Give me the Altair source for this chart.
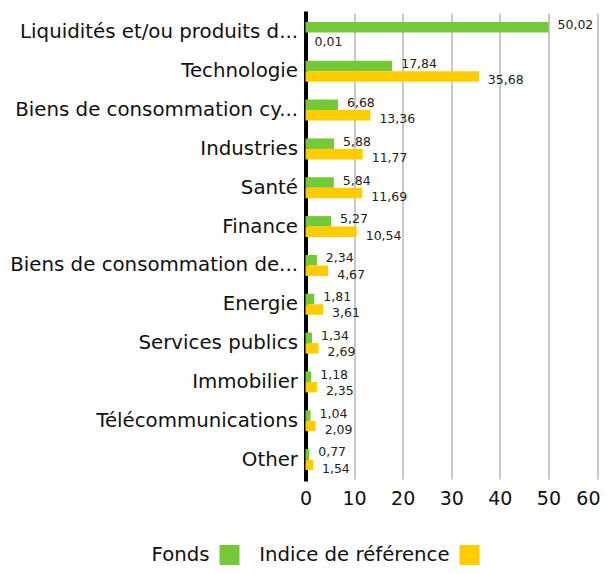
import altair as alt
import pandas as pd

categories = [
    "Liquidités et/ou produits d...",
    "Technologie",
    "Biens de consommation cy...",
    "Industries",
    "Santé",
    "Finance",
    "Biens de consommation de...",
    "Energie",
    "Services publics",
    "Immobilier",
    "Télécommunications",
    "Other",
]
fonds = [50.02, 17.84, 6.68, 5.88, 5.84, 5.27, 2.34, 1.81, 1.34, 1.18, 1.04, 0.77]
indice = [0.01, 35.68, 13.36, 11.77, 11.69, 10.54, 4.67, 3.61, 2.69, 2.35, 2.09, 1.54]
series_names = ["Fonds", "Indice de référence"]
colors = ["#74c936", "#ffcc00"]
x_ticks = [0, 10, 20, 30, 40, 50, 60]

rows = []
for c, f, i in zip(categories, fonds, indice):
    rows.append({"cat": c, "series": series_names[0], "value": f})
    rows.append({"cat": c, "series": series_names[1], "value": i})
df = pd.DataFrame(rows)
df["label"] = df["value"].map(lambda v: f"{v:.2f}".replace(".", ","))

FONT = "DejaVu Sans"

y_enc = alt.Y("cat:N", sort=categories, title=None,
              scale=alt.Scale(paddingInner=0.46, paddingOuter=0.23),
              axis=alt.Axis(labelFontSize=19.8, labelColor="#111", labelFont=FONT,
                            labelPadding=8, labelLimit=400, ticks=False,
                            domainColor="#000", domainWidth=4, domainCap="square"))
x_enc = alt.X("value:Q", title=None,
              scale=alt.Scale(domain=[0, 60], nice=False),
              axis=alt.Axis(values=x_ticks, grid=True, labelFlush=False,
                            labelAlign={"condition": {"test": "datum.value == 60", "value": "right"},
                                        "value": "center"},
                            labelOffset={"condition": {"test": "datum.value == 60", "value": 3},
                                         "value": 0},
                            gridColor="#c8c8c8", gridWidth=2, domain=False,
                            ticks=False, labelFontSize=19, labelFont=FONT,
                            labelColor="#111", labelPadding=10))
yoff = alt.YOffset("series:N", sort=series_names,
                   scale=alt.Scale(paddingInner=0, paddingOuter=0))

# square symbol drawn to the right of its (right-aligned) label
shifted_square = "M2,-1L4,-1L4,1L2,1Z"

bars = alt.Chart(df).mark_bar().encode(
    y=y_enc, x=x_enc, yOffset=yoff,
    color=alt.Color("series:N", sort=series_names,
                    scale=alt.Scale(domain=series_names, range=colors),
                    legend=alt.Legend(title=None, orient="none", direction="horizontal",
                                      legendX=-116, legendY=532,
                                      symbolType=shifted_square, symbolSize=400,
                                      symbolStrokeWidth=0,
                                      labelAlign="right", labelOffset=0,
                                      labelFontSize=19.7, labelFont=FONT,
                                      labelColor="#111", columnPadding=19,
                                      labelLimit=300)),
)

t1 = alt.Chart(df).transform_filter(alt.datum.series == series_names[0]).mark_text(
    align="left", dx=9, dy=-2, fontSize=12.5, font=FONT, color="#222"
).encode(y=y_enc, x=x_enc, yOffset=yoff, text="label:N")
t2 = alt.Chart(df).transform_filter(alt.datum.series == series_names[1]).mark_text(
    align="left", dx=9, dy=4, fontSize=12.5, font=FONT, color="#222"
).encode(y=y_enc, x=x_enc, yOffset=yoff, text="label:N")

chart = alt.layer(bars, t1, t2).properties(
    width=291.5, height=466,
    autosize=alt.AutoSizeParams(type="none"),
    padding={"left": 297.5, "top": 5, "right": 4, "bottom": 87},
).configure_view(stroke=None)

chart.save("out.html", embed_options={"renderer": "svg", "actions": False})
